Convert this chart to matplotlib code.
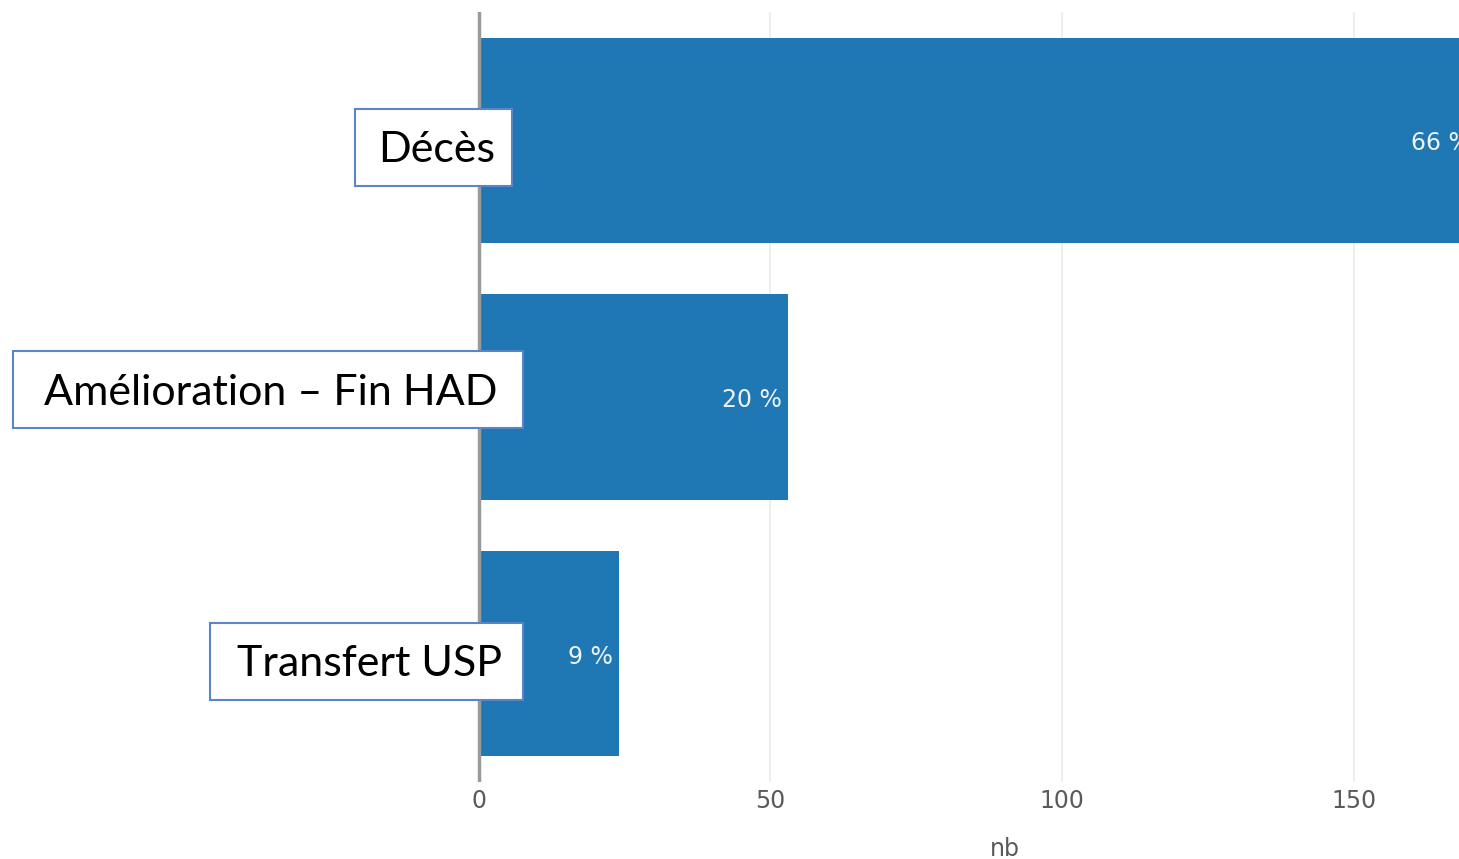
import matplotlib.pyplot as plt
from matplotlib.patches import Rectangle

# data
categories = ["Décès", "Amélioration – Fin HAD", "Transfert USP"]
counts = [171, 53, 24]
pct_labels = ["66 %", "20 %", "9 %"]
x_ticks = [0, 50, 100, 150]

bar_color = "#1f77b4"
box_edge = "#5a86c8"

fig = plt.figure(figsize=(14.59, 8.59), dpi=100)
ax = fig.add_axes([0, 1 - 782 / 859, 1, (782 - 12) / 859])

y = list(range(len(categories)))
ax.barh(y, counts, height=0.8, color=bar_color, zorder=2)

ax.set_xlim(-82, 168)
ax.set_ylim(len(categories) - 0.5, -0.5)

# grid and axis
for t in x_ticks[1:]:
    ax.axvline(t, color="#ebebeb", lw=1.2, zorder=1)
ax.axvline(0, color="#9a9a9a", lw=2.5, zorder=3)
for s in ax.spines.values():
    s.set_visible(False)
ax.set_yticks([])
ax.set_xticks(x_ticks)
ax.tick_params(axis="x", length=0, pad=5, labelsize=17, labelcolor="#5a5a5a")
ax.set_xlabel("nb", fontsize=17, color="#5a5a5a")
ax.xaxis.set_label_coords(1005 / 1459, -0.071)

# percentage labels inside the bars (the first one runs off the right edge, as in the original)
for yi, c, lab in zip(y, counts, pct_labels):
    ax.annotate(lab, (c, yi), xytext=(-6, -3), textcoords="offset pixels",
                ha="right", va="center", color="#eef3f8", fontsize=17,
                zorder=4, annotation_clip=False)

# category labels in boxes (overlaid text boxes)
boxes = [(355, 109, 512, 186), (13, 351, 523, 428), (210, 623, 523, 700)]
W, H = 1459, 859
for lab, (x0, y0, x1, y1) in zip(categories, boxes):
    fig.patches.append(Rectangle((x0 / W, 1 - y1 / H), (x1 - x0) / W, (y1 - y0) / H,
                                 transform=fig.transFigure, facecolor="white",
                                 edgecolor=box_edge, lw=1.5, zorder=5))
    fig.text((x0 + x1) / 2 / W + 0.002, 1 - ((y0 + y1) / 2 + 3) / H, lab,
             ha="center", va="center", fontsize=31, family="Lato",
             color="black", zorder=6)

fig.savefig("out.png", dpi=100)
